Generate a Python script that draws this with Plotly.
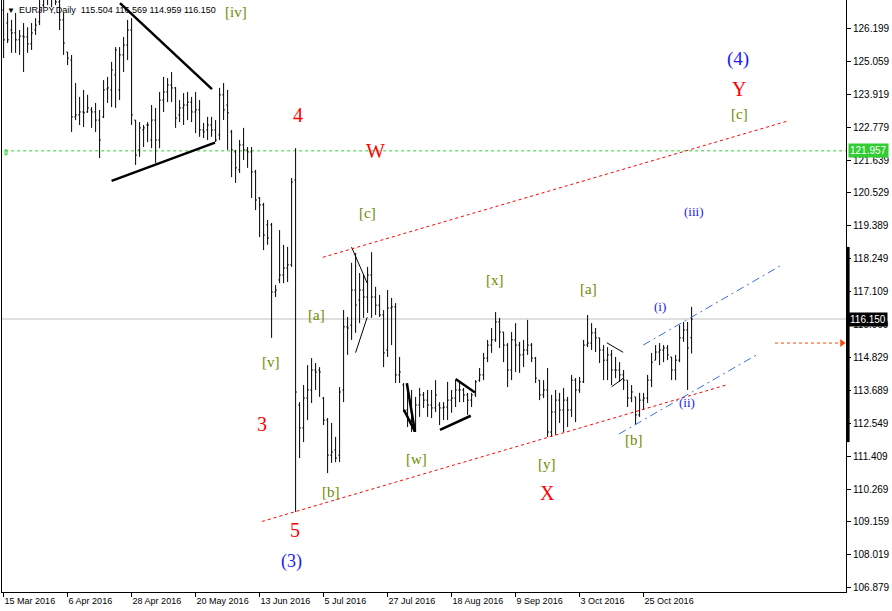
import plotly.graph_objects as go

# ---------------- data ----------------
bar_index = list(range(173))

open_ = [
    126.82, 126.37, 126.13, 126.03, 125.79, 125.92, 125.89, 125.65, 126.13, 126.41,
    126.99, 127.30, 127.20, 127.30, 127.10, 126.48, 125.37, 125.09, 123.13, 123.20,
    123.30, 123.30, 123.37, 123.30, 123.02, 123.13, 124.09, 124.06, 124.58, 124.06,
    125.27, 125.61, 126.13, 123.02, 121.99, 122.68, 122.85, 122.33, 123.02, 122.33,
    123.71, 123.99, 124.23, 124.13, 123.20, 123.44, 123.54, 123.64, 123.30, 123.37,
    122.68, 122.68, 122.85, 122.68, 122.51, 123.89, 123.54, 122.61, 121.92, 121.30,
    122.16, 121.99, 121.92, 121.23, 120.33, 120.09, 119.40, 119.40, 117.08, 117.50,
    117.67, 117.91, 118.02, 120.95, 113.18, 112.39, 113.42, 113.70, 114.39, 114.39,
    113.42, 112.66, 111.45, 111.63, 111.45, 113.70, 115.88, 115.94, 117.15, 116.81,
    117.15, 116.91, 117.67, 116.91, 116.63, 116.29, 115.08, 116.53, 116.57, 114.22,
    113.87, 113.01, 112.66, 112.49, 113.18, 113.53, 113.35, 113.18, 113.08, 113.18,
    113.08, 113.11, 113.35, 113.42, 113.70, 113.70, 113.53, 113.35, 113.53, 114.04,
    114.22, 114.80, 115.25, 115.43, 116.05, 115.70, 115.25, 114.39, 115.43, 115.25,
    114.91, 115.08, 115.25, 114.80, 114.04, 113.53, 113.70, 112.25, 112.94, 113.35,
    113.01, 113.35, 113.01, 114.04, 113.70, 113.98, 115.25, 115.32, 115.67, 115.50,
    115.08, 114.73, 114.91, 114.39, 114.39, 114.22, 114.04, 113.42, 113.46, 112.84,
    113.35, 113.42, 114.04, 114.73, 115.01, 115.08, 115.15, 114.84, 114.39, 114.73,
    115.50, 115.77, 115.504,
]
high = [
    127.50, 126.72, 126.48, 126.72, 126.13, 126.37, 126.23, 126.37, 126.54, 127.50,
    127.50, 127.60, 127.60, 127.60, 127.50, 126.72, 125.37, 125.27, 124.30, 123.82,
    124.06, 123.89, 123.47, 123.61, 123.37, 124.40, 124.51, 125.03, 125.54, 125.54,
    125.89, 126.48, 126.54, 123.02, 122.95, 122.85, 122.95, 123.54, 123.44, 123.99,
    124.51, 124.47, 124.68, 124.16, 123.71, 123.95, 123.99, 123.82, 123.99, 123.71,
    122.92, 123.13, 123.13, 123.02, 124.13, 124.30, 124.06, 122.68, 121.99, 122.33,
    122.75, 122.09, 122.09, 121.30, 120.36, 120.16, 119.57, 119.47, 117.32, 119.22,
    118.71, 118.64, 121.02, 122.05, 113.28, 113.87, 114.56, 114.80, 114.63, 114.49,
    113.46, 112.73, 112.56, 112.08, 113.80, 116.46, 116.22, 118.09, 118.43, 117.74,
    117.67, 117.95, 118.46, 117.26, 116.98, 116.46, 117.15, 116.88, 116.70, 114.84,
    113.94, 113.94, 113.70, 113.46, 113.77, 113.63, 113.70, 113.70, 114.04, 113.28,
    113.28, 113.98, 113.70, 114.04, 113.94, 113.77, 113.60, 113.60, 114.04, 114.46,
    114.98, 115.43, 115.84, 116.39, 116.19, 115.70, 115.32, 115.70, 116.01, 115.36,
    115.43, 116.12, 115.32, 114.84, 114.04, 114.04, 114.46, 113.53, 113.70, 113.60,
    113.77, 113.46, 114.22, 114.11, 114.15, 115.43, 116.29, 116.01, 115.84, 115.50,
    115.25, 115.18, 115.08, 114.84, 114.66, 114.39, 114.04, 113.87, 113.46, 113.60,
    113.60, 114.22, 114.98, 115.25, 115.32, 115.25, 115.25, 114.84, 114.91, 115.94,
    116.05, 116.05, 116.569,
]
low = [
    125.16, 125.68, 125.34, 125.34, 125.27, 124.68, 125.34, 125.44, 125.96, 126.30,
    126.92, 126.99, 126.92, 126.99, 126.13, 125.27, 124.92, 122.61, 123.02, 122.85,
    122.78, 123.27, 122.75, 122.61, 121.71, 123.09, 123.61, 123.47, 123.44, 123.71,
    124.68, 125.09, 122.85, 121.47, 121.75, 122.09, 122.26, 122.05, 121.54, 122.05,
    123.30, 123.64, 123.64, 122.75, 122.95, 122.85, 123.02, 122.95, 122.57, 122.44,
    122.40, 122.33, 122.44, 122.26, 122.33, 123.02, 121.99, 121.05, 120.85, 121.19,
    121.64, 121.37, 120.33, 119.91, 118.98, 118.53, 118.71, 115.50, 116.91, 117.39,
    117.39, 117.43, 117.95, 109.49, 111.35, 111.90, 112.66, 113.25, 113.70, 113.46,
    112.49, 110.83, 111.18, 111.21, 111.21, 113.28, 114.91, 115.43, 115.67, 116.01,
    116.19, 116.36, 116.19, 116.29, 116.22, 114.49, 114.84, 115.25, 113.94, 113.94,
    112.94, 112.42, 112.25, 112.25, 112.77, 113.08, 112.77, 112.73, 112.94, 112.49,
    112.66, 112.66, 112.91, 113.11, 113.28, 113.28, 112.84, 113.11, 113.46, 113.98,
    114.04, 114.66, 114.98, 115.36, 115.15, 114.66, 113.80, 114.04, 114.32, 114.29,
    114.49, 114.91, 114.66, 113.94, 113.35, 113.42, 112.08, 112.08, 112.15, 112.56,
    112.25, 112.42, 112.77, 112.59, 113.60, 113.94, 115.18, 115.08, 115.01, 114.63,
    114.04, 114.04, 113.87, 114.11, 113.98, 113.70, 113.11, 113.28, 112.49, 112.77,
    113.01, 113.25, 113.80, 114.73, 114.56, 114.66, 114.73, 114.04, 114.04, 114.66,
    115.36, 113.70, 114.959,
]
close = [
    125.79, 125.79, 126.03, 125.79, 125.92, 125.89, 125.65, 126.03, 126.30, 126.82,
    127.23, 127.20, 127.30, 127.10, 126.48, 125.68, 125.16, 123.13, 123.20, 123.30,
    123.27, 123.44, 123.30, 123.02, 122.33, 124.06, 124.13, 124.75, 125.44, 125.27,
    125.61, 126.13, 123.20, 121.81, 122.75, 122.75, 122.85, 123.02, 122.33, 123.71,
    123.99, 124.23, 124.13, 123.09, 123.44, 123.54, 123.64, 123.30, 123.37, 122.68,
    122.61, 122.85, 122.68, 122.33, 123.89, 123.37, 123.27, 121.99, 121.37, 122.16,
    121.99, 121.92, 121.23, 120.26, 120.09, 119.05, 118.95, 117.08, 117.15, 117.67,
    117.91, 118.02, 120.88, 113.63, 112.39, 113.42, 113.70, 114.39, 114.32, 114.32,
    112.66, 111.45, 111.56, 111.35, 113.63, 115.88, 115.84, 117.15, 116.63, 117.15,
    116.91, 117.67, 116.91, 116.63, 116.29, 114.98, 116.53, 116.57, 114.22, 114.32,
    113.01, 112.66, 112.49, 113.18, 113.53, 113.35, 113.18, 113.08, 113.53, 113.08,
    113.11, 113.35, 113.42, 113.70, 113.70, 113.53, 113.35, 113.53, 113.98, 114.22,
    114.80, 115.25, 115.43, 116.05, 115.70, 115.25, 114.39, 115.43, 115.25, 114.91,
    115.08, 115.25, 114.80, 114.11, 113.53, 113.70, 112.25, 112.94, 113.35, 113.01,
    113.35, 113.01, 114.04, 113.70, 113.98, 115.25, 115.32, 115.67, 115.50, 115.08,
    114.73, 114.91, 114.39, 114.39, 114.22, 114.04, 113.42, 113.63, 112.84, 113.35,
    113.42, 114.04, 114.66, 115.01, 115.08, 115.15, 114.91, 114.39, 114.73, 115.50,
    115.77, 115.15, 116.150,
]

date_ticks = [0, 16, 32, 48, 64, 80, 96, 112, 128, 144, 160]
date_labels = ["15 Mar 2016", "6 Apr 2016", "28 Apr 2016", "20 May 2016", "13 Jun 2016",
               "5 Jul 2016", "27 Jul 2016", "18 Aug 2016", "9 Sep 2016", "3 Oct 2016",
               "25 Oct 2016"]
price_ticks = [126.199, 125.059, 123.919, 122.779, 121.639, 120.529, 119.389, 118.249,
               117.109, 115.969, 114.829, 113.689, 112.549, 111.409, 110.269, 109.159,
               108.019, 106.879]
price_labels = ["%.3f" % v for v in price_ticks]

symbol = "EURJPY,Daily"
last_ohlc = [115.504, 116.569, 114.959, 116.150]
bid_level = 116.150
green_level = 121.957
alert_level = 115.32

# ---------------- figure ----------------
X0, X1 = -0.4, 210.6
Y0, Y1 = 106.724, 127.166
OLIVE = "#6E8B00"
RED = "#FF0000"
BLUE = "#1A1AFF"
SERIF = "Liberation Serif, Times New Roman, serif"
SANS = "Liberation Sans, Arial, sans-serif"

fig = go.Figure()
fig.add_trace(go.Ohlc(
    x=bar_index, open=open_, high=high, low=low, close=close,
    increasing=dict(line=dict(color="black", width=1)),
    decreasing=dict(line=dict(color="black", width=1)),
    tickwidth=0.32, hoverinfo="skip", showlegend=False,
))

# alert arrow head
fig.add_trace(go.Scatter(
    x=[209.6], y=[alert_level], mode="markers",
    marker=dict(symbol="triangle-right", size=7, color="#FF4500"),
    hoverinfo="skip", showlegend=False, cliponaxis=False,
))

shapes = []
shapes.append(dict(type="line", xref="paper", x0=0, x1=1, yref="y", y0=bid_level, y1=bid_level,
                   line=dict(color="#C0C0C0", width=1), layer="below"))
shapes.append(dict(type="line", xref="x", x0=0.4, x1=X1, yref="y", y0=green_level, y1=green_level,
                   line=dict(color="#32CD32", width=1, dash="3px,3px"), layer="below"))
shapes.append(dict(type="line", xref="x", x0=192.85, x1=209.0, yref="y", y0=alert_level, y1=alert_level,
                   line=dict(color="#FF4500", width=1, dash="3px,3px")))
shapes.append(dict(type="rect", xref="x", x0=0.35, x1=0.85, yref="y", y0=121.82, y1=121.99,
                   line=dict(color="#32CD32", width=1)))
shapes.append(dict(type="line", xref="paper", x0=1.0025, x1=1.0025, yref="y", y0=118.64, y1=111.90,
                   line=dict(color="black", width=3)))


def seg(x0, y0, x1, y1, color="black", width=1, dash=None):
    ln = dict(color=color, width=width)
    if dash:
        ln["dash"] = dash
    shapes.append(dict(type="line", xref="x", yref="y", x0=x0, y0=y0, x1=x1, y1=y1, line=ln))


seg(29.1, 127.06, 52.1, 124.09, width=2.5)
seg(27.0, 120.92, 52.85, 122.24, width=2.5)
seg(87.0, 118.63, 90.9, 117.39, width=1)
seg(88.0, 114.99, 90.9, 116.21, width=1)
seg(100.8, 113.93, 102.85, 112.26, width=2.5)
seg(100.1, 113.01, 102.85, 112.26, width=2.5)
seg(113.0, 114.08, 117.85, 113.61, width=2.5)
seg(109.1, 112.32, 116.8, 112.81, width=2.5)
seg(150.8, 115.33, 154.9, 115.00, width=1)
seg(152.0, 113.81, 154.9, 114.10, width=1)
seg(79.8, 118.28, 195.85, 122.98, color=RED, width=1, dash="3px,3px")
seg(64.6, 109.16, 180.85, 113.88, color=RED, width=1, dash="3px,3px")
seg(159.9, 115.25, 194.1, 117.98, color="#3D6FE0", width=1, dash="8px,4px,2px,4px")
seg(153.85, 112.18, 188.6, 114.94, color="#3D6FE0", width=1, dash="8px,4px,2px,4px")

ann = []


def lab(x, y, text, color, size):
    ann.append(dict(x=x, y=y, xref="x", yref="y", text=text, showarrow=False,
                    font=dict(family=SERIF, size=size, color=color),
                    xanchor="center", yanchor="middle"))


lab(58.1, 126.75, "[iv]", OLIVE, 15)
lab(73.6, 123.20, "4", RED, 20)
lab(92.85, 121.95, "W", RED, 20)
lab(90.85, 119.81, "[c]", OLIVE, 15)
lab(78.1, 116.29, "[a]", OLIVE, 15)
lab(66.85, 114.67, "[v]", OLIVE, 15)
lab(64.6, 112.53, "3", RED, 20)
lab(81.85, 110.18, "[b]", OLIVE, 15)
lab(72.85, 108.86, "5", RED, 20)
lab(71.85, 107.79, "(3)", BLUE, 18)
lab(103.1, 111.32, "[w]", OLIVE, 15)
lab(122.85, 117.50, "[x]", OLIVE, 15)
lab(135.85, 111.14, "[y]", OLIVE, 15)
lab(135.85, 110.14, "X", RED, 20)
lab(146.1, 117.19, "[a]", OLIVE, 15)
lab(157.6, 111.97, "[b]", OLIVE, 15)
lab(164.1, 116.57, "(i)", BLUE, 13)
lab(170.85, 113.28, "(ii)", BLUE, 13)
lab(172.6, 119.88, "(iii)", BLUE, 13)
lab(183.6, 125.13, "(4)", BLUE, 19)
lab(183.85, 124.09, "Y", RED, 20)
lab(183.85, 123.23, "[c]", OLIVE, 15)

ann.append(dict(xref="paper", yref="paper", x=0, y=1, xshift=3, yshift=-4, xanchor="left", yanchor="top",
                text="▼", showarrow=False, font=dict(family=SANS, size=8, color="black")))
ann.append(dict(xref="paper", yref="paper", x=0, y=1, xshift=15, yshift=-3, xanchor="left", yanchor="top",
                text=symbol + "  " + " ".join("%.3f" % v for v in last_ohlc), showarrow=False,
                font=dict(family=SANS, size=9, color="black")))
ann.append(dict(xref="paper", yref="y", x=1, y=green_level, xshift=2, xanchor="left", yanchor="middle",
                text="%.3f" % green_level, showarrow=False, bgcolor="#32CD32", borderpad=1,
                font=dict(family=SANS, size=10, color="white")))
ann.append(dict(xref="paper", yref="y", x=1, y=bid_level, xshift=2, xanchor="left", yanchor="middle",
                text="%.3f" % bid_level, showarrow=False, bgcolor="black", borderpad=1,
                font=dict(family=SANS, size=10, color="white")))

fig.update_layout(
    width=892, height=611,
    margin=dict(l=2, r=46, t=0, b=19),
    paper_bgcolor="white", plot_bgcolor="white",
    shapes=shapes, annotations=ann,
    xaxis=dict(range=[X0, X1], rangeslider=dict(visible=False), showgrid=False, zeroline=False,
               showline=True, mirror=True, linecolor="black", linewidth=1,
               tickmode="array", tickvals=date_ticks, ticktext=date_labels,
               ticks="outside", ticklen=4, tickcolor="black", ticklabelposition="outside right",
               tickfont=dict(family=SANS, size=9, color="black")),
    yaxis=dict(range=[Y0, Y1], side="right", showgrid=False, zeroline=False,
               showline=True, mirror=True, linecolor="black", linewidth=1,
               tickmode="array", tickvals=price_ticks, ticktext=price_labels,
               ticks="outside", ticklen=4, tickcolor="black",
               tickfont=dict(family=SANS, size=10, color="black")),
)

fig.write_html("out.html", config={"displayModeBar": False},
               post_script="document.body.style.margin='0px';document.body.style.overflow='hidden';")
